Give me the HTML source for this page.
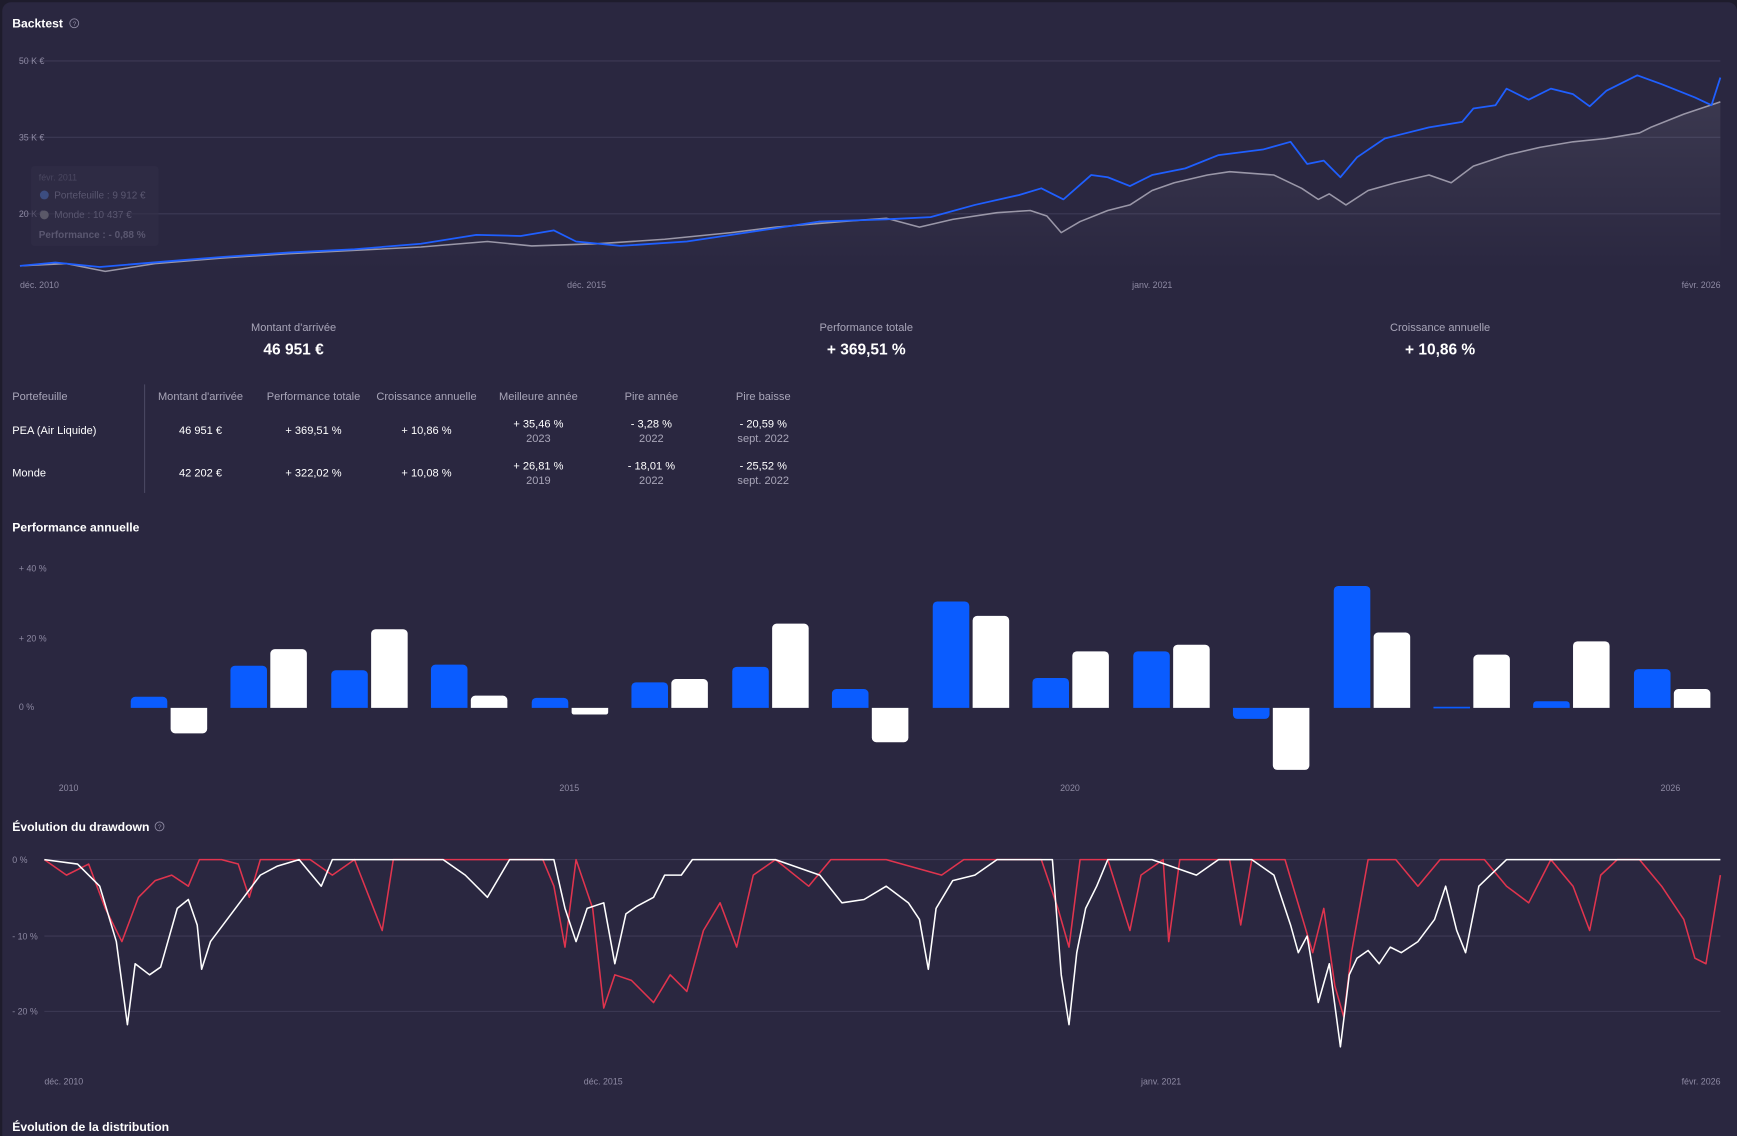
<!DOCTYPE html>
<html><head><meta charset="utf-8"><style>
html,body{margin:0;padding:0;background:#1e1c2c;}
svg{display:block;font-family:"Liberation Sans",sans-serif;}
.g{fill:#8e8aa3;font-size:8px}
.h{fill:#fff;font-size:11px;font-weight:bold}
.l{fill:#b9b6c8;font-size:10px}
.v{fill:#fff;font-size:10px}
.s{fill:#a8a5b8;font-size:10px}
</style></head><body>
<svg width="1737" height="1136" viewBox="0 0 1568 1025.5" xmlns="http://www.w3.org/2000/svg">
<defs><linearGradient id="ga" x1="0" y1="0" x2="0" y2="1"><stop offset="0" stop-color="#ffffff" stop-opacity="0.08"/><stop offset="1" stop-color="#ffffff" stop-opacity="0"/></linearGradient></defs>
<rect x="0" y="0" width="1568" height="1026" fill="#1e1c2c"/>
<rect x="2" y="2" width="1566" height="1030" rx="8" fill="#2a2740"/>
<text x="11" y="25" class="h">Backtest</text>
<circle cx="67" cy="21" r="4" fill="none" stroke="#8e8aa3" stroke-width="0.8"/><text x="65.5" y="23.5" style="fill:#8e8aa3;font-size:6px">?</text>
<g stroke="#3d3a55" stroke-width="1"><line x1="18" y1="55" x2="1553" y2="55"/><line x1="18" y1="124" x2="1553" y2="124"/><line x1="18" y1="193" x2="1553" y2="193"/></g>
<text x="17" y="58" class="g">50 K €</text><text x="17" y="127" class="g">35 K €</text><text x="17" y="196" class="g">20 K €</text>
<polygon fill="url(#ga)" points="18,240 60,238 95,245 140,238 200,233 260,229 320,226 380,223 440,218 480,222 540,220 600,216 660,210 700,205 760,200 800,197 830,205 860,198 900,192 930,190 945,195 958,210 975,200 1000,190 1020,185 1040,172 1060,165 1090,158 1110,155 1150,158 1175,170 1190,180 1200,175 1215,185 1235,172 1260,165 1290,158 1310,165 1330,150 1360,140 1390,133 1420,128 1450,125 1480,120 1490,115 1520,103 1553,92 1553,245 18,245"/>
<rect x="28" y="150" width="115" height="72" rx="3" fill="#322f47" opacity="0.6"/>
<text x="35" y="163" style="fill:#4a4760;font-size:8px">févr. 2011</text>
<circle cx="40" cy="176" r="4" fill="#3c4d80"/><text x="49" y="179" style="fill:#5a5770;font-size:9px">Portefeuille : 9 912 €</text>
<circle cx="40" cy="194" r="4" fill="#5a5868"/><text x="49" y="197" style="fill:#5a5770;font-size:9px">Monde : 10 437 €</text>
<text x="35" y="215" style="fill:#5a5770;font-size:9px;font-weight:bold">Performance : - 0,88 %</text>
<polyline fill="none" stroke="#9a97a8" stroke-width="1.4" stroke-linejoin="round" points="18,240 60,238 95,245 140,238 200,233 260,229 320,226 380,223 440,218 480,222 540,220 600,216 660,210 700,205 760,200 800,197 830,205 860,198 900,192 930,190 945,195 958,210 975,200 1000,190 1020,185 1040,172 1060,165 1090,158 1110,155 1150,158 1175,170 1190,180 1200,175 1215,185 1235,172 1260,165 1290,158 1310,165 1330,150 1360,140 1390,133 1420,128 1450,125 1480,120 1490,115 1520,103 1553,92"/>
<polyline fill="none" stroke="#1f5fff" stroke-width="1.6" stroke-linejoin="round" points="18,240 50,237 90,241 150,236 200,232 260,228 320,225 380,220 430,212 470,213 500,208 520,218 560,222 620,218 660,212 700,206 740,200 800,198 840,196 880,185 920,176 940,170 960,180 985,158 1000,160 1020,168 1040,158 1070,152 1100,140 1140,135 1165,128 1180,148 1195,145 1210,160 1225,142 1250,125 1290,115 1320,110 1330,98 1350,95 1360,80 1380,90 1400,80 1420,85 1435,96 1450,82 1478,68 1500,76 1530,88 1545,95 1553,70"/>
<text x="18" y="260" class="g">déc. 2010</text><text x="512" y="260" class="g">déc. 2015</text><text x="1022" y="260" class="g">janv. 2021</text><text x="1518" y="260" class="g">févr. 2026</text>
<g text-anchor="middle">
<text x="265" y="299" class="s">Montant d'arrivée</text><text x="265" y="320" style="fill:#fff;font-size:14px;font-weight:bold">46 951 €</text>
<text x="782" y="299" class="s">Performance totale</text><text x="782" y="320" style="fill:#fff;font-size:14px;font-weight:bold">+ 369,51 %</text>
<text x="1300" y="299" class="s">Croissance annuelle</text><text x="1300" y="320" style="fill:#fff;font-size:14px;font-weight:bold">+ 10,86 %</text>
</g>
<line x1="130.5" y1="347" x2="130.5" y2="445" stroke="#4a4762"/>
<text x="11" y="361" class="s">Portefeuille</text>
<text x="11" y="392" class="v">PEA (Air Liquide)</text><text x="11" y="430" class="v">Monde</text>
<g text-anchor="middle">
<text x="181" y="361" class="s">Montant d'arrivée</text><text x="283" y="361" class="s">Performance totale</text><text x="385" y="361" class="s">Croissance annuelle</text><text x="486" y="361" class="s">Meilleure année</text><text x="588" y="361" class="s">Pire année</text><text x="689" y="361" class="s">Pire baisse</text>
<text x="181" y="392" class="v">46 951 €</text><text x="283" y="392" class="v">+ 369,51 %</text><text x="385" y="392" class="v">+ 10,86 %</text>
<text x="486" y="386" class="v">+ 35,46 %</text><text x="486" y="399" class="s">2023</text>
<text x="588" y="386" class="v">- 3,28 %</text><text x="588" y="399" class="s">2022</text>
<text x="689" y="386" class="v">- 20,59 %</text><text x="689" y="399" class="s">sept. 2022</text>
<text x="181" y="430" class="v">42 202 €</text><text x="283" y="430" class="v">+ 322,02 %</text><text x="385" y="430" class="v">+ 10,08 %</text>
<text x="486" y="424" class="v">+ 26,81 %</text><text x="486" y="437" class="s">2019</text>
<text x="588" y="424" class="v">- 18,01 %</text><text x="588" y="437" class="s">2022</text>
<text x="689" y="424" class="v">- 25,52 %</text><text x="689" y="437" class="s">sept. 2022</text>
</g>
<text x="11" y="480" class="h">Performance annuelle</text>
<text x="17" y="516" class="g">+ 40 %</text><text x="17" y="579" class="g">+ 20 %</text><text x="17" y="641" class="g">0 %</text>
<g id="bars"></g>
<text x="53" y="714" class="g">2010</text><text x="505" y="714" class="g">2015</text><text x="957" y="714" class="g">2020</text><text x="1499" y="714" class="g">2026</text>
<text x="11" y="750" class="h">Évolution du drawdown</text>
<circle cx="144" cy="746" r="4" fill="none" stroke="#8e8aa3" stroke-width="0.8"/><text x="142.5" y="748.5" style="fill:#8e8aa3;font-size:6px">?</text>
<g stroke="#3d3a55" stroke-width="1"><line x1="40" y1="776" x2="1553" y2="776"/><line x1="40" y1="845" x2="1553" y2="845"/><line x1="40" y1="913" x2="1553" y2="913"/></g>
<text x="11" y="779" class="g">0 %</text><text x="11" y="848" class="g">- 10 %</text><text x="11" y="916" class="g">- 20 %</text>
<polyline fill="none" stroke="#e0344e" stroke-width="1.4" stroke-linejoin="round" points="40,776 60,790 80,780 95,820 110,850 125,810 140,795 155,790 170,800 180,776 200,776 215,780 225,810 235,776 260,776 280,776 300,790 320,776 345,840 355,776 400,776 420,776 450,776 490,776 500,800 510,855 520,776 535,820 545,910 555,880 570,885 590,905 605,880 620,895 635,840 650,815 665,855 680,790 700,776 730,800 750,776 800,776 850,790 870,776 900,776 940,776 955,820 965,855 975,776 1000,776 1020,840 1030,790 1050,776 1055,850 1065,776 1110,776 1120,835 1130,776 1160,776 1185,860 1195,820 1205,890 1213,918 1220,860 1235,776 1260,776 1280,800 1300,776 1340,776 1360,800 1380,815 1400,776 1420,800 1435,840 1445,790 1460,776 1480,776 1500,800 1520,830 1530,865 1540,870 1553,790"/>
<polyline fill="none" stroke="#ffffff" stroke-width="1.4" stroke-linejoin="round" points="40,776 70,780 90,800 105,850 115,925 122,870 135,880 145,873 160,820 170,812 178,835 182,875 190,850 205,830 220,810 235,790 250,782 270,776 290,800 300,776 330,776 360,776 380,776 400,776 420,790 440,810 460,776 480,776 500,776 510,820 520,850 530,820 545,815 555,870 565,825 575,818 590,810 600,790 615,790 625,776 640,776 700,776 740,790 760,815 780,812 800,800 820,815 830,830 838,875 845,820 860,795 880,790 900,776 950,776 958,880 965,925 972,860 980,820 990,800 1000,776 1020,776 1040,776 1080,790 1100,776 1130,776 1150,790 1165,835 1172,860 1180,845 1190,905 1200,870 1210,945 1218,880 1225,865 1235,858 1245,870 1255,855 1265,860 1280,850 1295,830 1305,800 1315,840 1323,860 1335,800 1360,776 1400,776 1450,776 1553,776"/>
<text x="40" y="979" class="g">déc. 2010</text><text x="527" y="979" class="g">déc. 2015</text><text x="1030" y="979" class="g">janv. 2021</text><text x="1518" y="979" class="g">févr. 2026</text>
<text x="11" y="1021" class="h">Évolution de la distribution</text>
<!-- bars -->
<g>
<path fill="#0a5cff" d="M118,639V633a4,4 0 0 1 4,-4H147a4,4 0 0 1 4,4V639Z"/><path fill="#fff" d="M154,639V658a4,4 0 0 0 4,4H183a4,4 0 0 0 4,-4V639Z"/>
<path fill="#0a5cff" d="M208,639V605a4,4 0 0 1 4,-4H237a4,4 0 0 1 4,4V639Z"/><path fill="#fff" d="M244,639V590a4,4 0 0 1 4,-4H273a4,4 0 0 1 4,4V639Z"/>
<path fill="#0a5cff" d="M299,639V609a4,4 0 0 1 4,-4H328a4,4 0 0 1 4,4V639Z"/><path fill="#fff" d="M335,639V572a4,4 0 0 1 4,-4H364a4,4 0 0 1 4,4V639Z"/>
<path fill="#0a5cff" d="M389,639V604a4,4 0 0 1 4,-4H418a4,4 0 0 1 4,4V639Z"/><path fill="#fff" d="M425,639V632a4,4 0 0 1 4,-4H454a4,4 0 0 1 4,4V639Z"/>
<path fill="#0a5cff" d="M480,639V634a4,4 0 0 1 4,-4H509a4,4 0 0 1 4,4V639Z"/><path fill="#fff" d="M516,639V643a2,2 0 0 0 2,2H547a2,2 0 0 0 2,-2V639Z"/>
<path fill="#0a5cff" d="M570,639V620a4,4 0 0 1 4,-4H599a4,4 0 0 1 4,4V639Z"/><path fill="#fff" d="M606,639V617a4,4 0 0 1 4,-4H635a4,4 0 0 1 4,4V639Z"/>
<path fill="#0a5cff" d="M661,639V606a4,4 0 0 1 4,-4H690a4,4 0 0 1 4,4V639Z"/><path fill="#fff" d="M697,639V567a4,4 0 0 1 4,-4H726a4,4 0 0 1 4,4V639Z"/>
<path fill="#0a5cff" d="M751,639V626a4,4 0 0 1 4,-4H780a4,4 0 0 1 4,4V639Z"/><path fill="#fff" d="M787,639V666a4,4 0 0 0 4,4H816a4,4 0 0 0 4,-4V639Z"/>
<path fill="#0a5cff" d="M842,639V547a4,4 0 0 1 4,-4H871a4,4 0 0 1 4,4V639Z"/><path fill="#fff" d="M878,639V560a4,4 0 0 1 4,-4H907a4,4 0 0 1 4,4V639Z"/>
<path fill="#0a5cff" d="M932,639V616a4,4 0 0 1 4,-4H961a4,4 0 0 1 4,4V639Z"/><path fill="#fff" d="M968,639V592a4,4 0 0 1 4,-4H997a4,4 0 0 1 4,4V639Z"/>
<path fill="#0a5cff" d="M1023,639V592a4,4 0 0 1 4,-4H1052a4,4 0 0 1 4,4V639Z"/><path fill="#fff" d="M1059,639V586a4,4 0 0 1 4,-4H1088a4,4 0 0 1 4,4V639Z"/>
<path fill="#0a5cff" d="M1113,639V645a4,4 0 0 0 4,4H1142a4,4 0 0 0 4,-4V639Z"/><path fill="#fff" d="M1149,639V691a4,4 0 0 0 4,4H1178a4,4 0 0 0 4,-4V639Z"/>
<path fill="#0a5cff" d="M1204,639V533a4,4 0 0 1 4,-4H1233a4,4 0 0 1 4,4V639Z"/><path fill="#fff" d="M1240,639V575a4,4 0 0 1 4,-4H1269a4,4 0 0 1 4,4V639Z"/>
<rect fill="#0a5cff" x="1294" y="638" width="33" height="1.5"/><path fill="#fff" d="M1330,639V595a4,4 0 0 1 4,-4H1359a4,4 0 0 1 4,4V639Z"/>
<path fill="#0a5cff" d="M1384,639V636a3,3 0 0 1 3,-3H1414a3,3 0 0 1 3,3V639Z"/><path fill="#fff" d="M1420,639V583a4,4 0 0 1 4,-4H1449a4,4 0 0 1 4,4V639Z"/>
<path fill="#0a5cff" d="M1475,639V608a4,4 0 0 1 4,-4H1504a4,4 0 0 1 4,4V639Z"/><path fill="#fff" d="M1511,639V626a4,4 0 0 1 4,-4H1540a4,4 0 0 1 4,4V639Z"/>
</g>
</svg>
</body></html>
